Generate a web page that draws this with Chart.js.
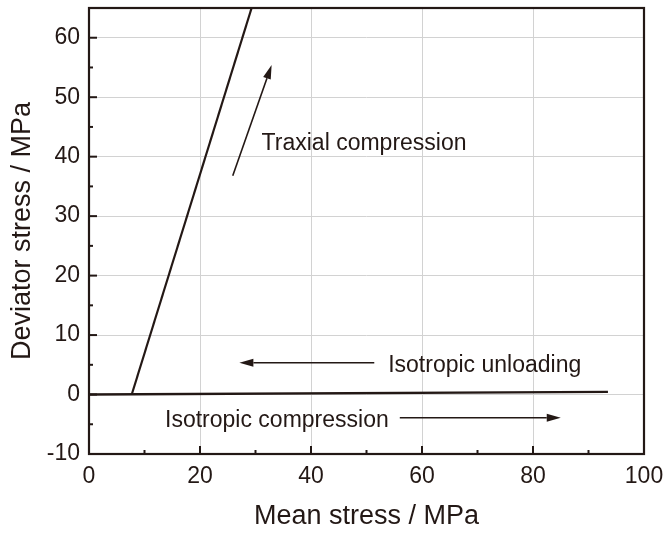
<!DOCTYPE html>
<html>
<head>
<meta charset="utf-8">
<script src="https://cdn.jsdelivr.net/npm/chart.js@4"></script>
<style>
  html, body { margin: 0; padding: 0; background: #fff; }
  #wrap { width: 666px; height: 534px; }
</style>
</head>
<body>
<div id="wrap"><canvas id="myChart" width="666" height="534"></canvas></div>
<script>
// stress paths
const isoX = [0, 93.5];
const isoY = [0, 0.45];
const triX = [7.7, 29.3];
const triY = [0, 65];

// arrows (from -> to, data units)
const arrowFromX = [25.9, 51.4, 56.0];
const arrowFromY = [36.8, 5.35, -3.9];
const arrowToX = [32.9, 27.1, 85.0];
const arrowToY = [55.4, 5.35, -3.9];

// text labels (left edge, baseline)
const labelText = ['Traxial compression', 'Isotropic unloading', 'Isotropic compression'];
const labelX = [31.1, 53.9, 13.7];
const labelY = [41.1, 3.8, -5.4];

const ink = '#231815';
const font = '"Liberation Sans", Arial, sans-serif';

const toPts = (xs, ys) => xs.map((x, i) => ({ x: x, y: ys[i] }));

const frame = {
  id: 'frame',
  afterDatasetsDraw(chart) {
    const c = chart.ctx;
    const xs = chart.scales.x, ys = chart.scales.y;
    const a = chart.chartArea;
    c.save();
    c.strokeStyle = ink;
    c.fillStyle = ink;

    // arrows
    c.lineWidth = 1.6;
    for (let i = 0; i < arrowFromX.length; i++) {
      const x1 = xs.getPixelForValue(arrowFromX[i]), y1 = ys.getPixelForValue(arrowFromY[i]);
      const x2 = xs.getPixelForValue(arrowToX[i]), y2 = ys.getPixelForValue(arrowToY[i]);
      const ang = Math.atan2(y2 - y1, x2 - x1);
      const len = 14, hw = 4;
      const bx = x2 - len * Math.cos(ang), by = y2 - len * Math.sin(ang);
      c.beginPath();
      c.moveTo(x1, y1);
      c.lineTo(bx, by);
      c.stroke();
      c.beginPath();
      c.moveTo(x2, y2);
      c.lineTo(bx + hw * Math.sin(ang), by - hw * Math.cos(ang));
      c.lineTo(bx - hw * Math.sin(ang), by + hw * Math.cos(ang));
      c.closePath();
      c.fill();
    }

    // labels
    c.font = '23px ' + font;
    c.textAlign = 'left';
    c.textBaseline = 'alphabetic';
    labelText.forEach((t, i) => {
      c.fillText(t, xs.getPixelForValue(labelX[i]), ys.getPixelForValue(labelY[i]));
    });

    // inward ticks
    c.lineWidth = 2;
    for (let v = 0; v <= 100; v += 10) {
      const px = xs.getPixelForValue(v);
      const l = v % 20 === 0 ? 8 : 4;
      c.beginPath();
      c.moveTo(px, a.bottom);
      c.lineTo(px, a.bottom - l);
      c.stroke();
    }
    for (let v = -10; v <= 65; v += 5) {
      const py = ys.getPixelForValue(v);
      const l = v % 10 === 0 ? 8 : 4;
      c.beginPath();
      c.moveTo(a.left, py);
      c.lineTo(a.left + l, py);
      c.stroke();
    }

    // box
    c.lineWidth = 2.2;
    c.strokeRect(a.left, a.top, a.right - a.left, a.bottom - a.top);
    c.restore();
  }
};

const ctx = document.getElementById('myChart').getContext('2d');
const config = {
  type: 'scatter',
  data: {
    datasets: [
      {
        label: 'Isotropic',
        data: toPts(isoX, isoY),
        showLine: true,
        borderColor: ink,
        borderWidth: 2.4,
        pointRadius: 0,
      },
      {
        label: 'Triaxial',
        data: toPts(triX, triY),
        showLine: true,
        borderColor: ink,
        borderWidth: 2.2,
        pointRadius: 0,
      },
    ],
  },
  options: {
    responsive: false,
    animation: false,
    layout: { padding: { top: 8, right: 22, left: 0, bottom: 0 } },
    plugins: {
      legend: { display: false },
      tooltip: { enabled: false },
    },
    scales: {
      x: {
        type: 'linear',
        min: 0,
        max: 100,
        afterFit: s => {
          s.height = 80;
          s.paddingLeft = 0;
          s.paddingRight = 0;
        },
        ticks: {
          stepSize: 20,
          color: ink,
          padding: 9,
          font: { size: 23, family: font },
        },
        grid: { color: '#d2d2d2', lineWidth: 1, drawTicks: false },
        border: { display: false },
        title: {
          display: true,
          text: 'Mean stress / MPa',
          color: ink,
          font: { size: 27, family: font, lineHeight: 1 },
          padding: { top: 0, bottom: 4 },
        },
      },
      y: {
        type: 'linear',
        min: -10,
        max: 65,
        afterFit: s => {
          s.width = 89;
          s.paddingTop = 0;
          s.paddingBottom = 0;
        },
        ticks: {
          stepSize: 10,
          includeBounds: false,
          color: ink,
          padding: 9,
          font: { size: 23, family: font },
        },
        grid: { color: '#d2d2d2', lineWidth: 1, drawTicks: false },
        border: { display: false },
        title: {
          display: true,
          text: 'Deviator stress / MPa',
          color: ink,
          font: { size: 27, family: font, lineHeight: 1 },
          padding: { top: 9, bottom: 0 },
        },
      },
    },
  },
  plugins: [frame],
};
Chart.defaults.color = ink;
const stressChart = new Chart(ctx, config);
</script>
</body>
</html>
